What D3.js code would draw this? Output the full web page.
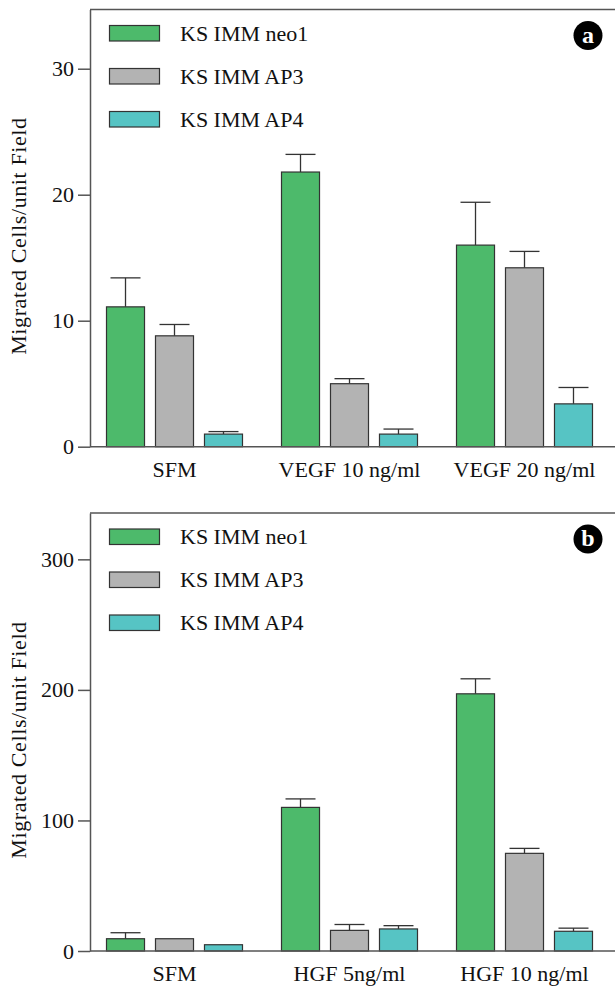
<!DOCTYPE html>
<html lang="en">
<head>
    <meta charset="UTF-8">
    <title>Migrated cells</title>
    <script src="https://d3js.org/d3.v7.min.js"></script>
    <style>
        body{
            margin: 0;
            background: white;
        }
        svg text{
            font-family: "Liberation Serif", "Times New Roman", Times, "DejaVu Serif", serif;
            fill: #111;
        }
        .axis path, .axis line{
            stroke: #555;
            stroke-width: 1.5px;
        }
    </style>
</head>
<body>
<svg id="canvas" width="615" height="987"></svg>
<script>
    // series and colours
    let series = ["KS IMM neo1", "KS IMM AP3", "KS IMM AP4"];
    let colors = ["#4dba6b", "#b3b3b3", "#56c4c4"];

    // panel a : VEGF
    let catsA = ["SFM", "VEGF 10 ng/ml", "VEGF 20 ng/ml"];
    let neo1A = [11.1, 21.8, 16.0];
    let neo1ErrA = [2.3, 1.4, 3.4];
    let ap3A = [8.8, 5.0, 14.2];
    let ap3ErrA = [0.9, 0.4, 1.3];
    let ap4A = [1.0, 1.0, 3.4];
    let ap4ErrA = [0.2, 0.4, 1.3];
    let ticksA = [0, 10, 20, 30];

    // panel b : HGF
    let catsB = ["SFM", "HGF 5ng/ml", "HGF 10 ng/ml"];
    let neo1B = [9.4, 110, 197];
    let neo1ErrB = [4.6, 6.5, 11.5];
    let ap3B = [9.4, 15.8, 74.8];
    let ap3ErrB = [0, 4.5, 3.8];
    let ap4B = [4.8, 16.9, 15.1];
    let ap4ErrB = [0, 2.5, 2.4];
    let ticksB = [0, 100, 200, 300];

    let svg = d3.select('svg');
    let serif = 'Liberation Serif';
    let fs = 22;

    function panel(opts){
        let g = svg.append('g');
        let y = d3.scaleLinear().domain([0, opts.ymax]).range([opts.bottom, opts.top]);
        let x = d3.scaleBand().domain(opts.cats).range([87, 612]);
        let xs = d3.scaleBand().domain(series).range([0, x.bandwidth()])
                    .paddingInner(0.224).paddingOuter(0.398);

        // frame: top line
        g.append('line').attr('x1', 90).attr('x2', 615)
            .attr('y1', opts.top).attr('y2', opts.top)
            .attr('stroke', '#555').attr('stroke-width', 1.5);

        let rows = [];
        opts.cats.forEach(function(c, i){
            series.forEach(function(s, j){
                rows.push({cat: c, s: s, j: j, v: opts.vals[j][i], e: opts.errs[j][i]});
            });
        });

        // error bars first so bar outline sits on top
        let cap = 30;
        let eb = g.append('g').attr('stroke', '#333').attr('stroke-width', 1.3);
        rows.filter(function(d){return d.e > 0;}).forEach(function(d){
            let cx = x(d.cat) + xs(d.s) + xs.bandwidth() / 2;
            eb.append('line').attr('x1', cx).attr('x2', cx)
                .attr('y1', y(d.v)).attr('y2', y(d.v + d.e));
            eb.append('line').attr('x1', cx - cap / 2).attr('x2', cx + cap / 2)
                .attr('y1', y(d.v + d.e)).attr('y2', y(d.v + d.e));
        });

        g.selectAll('rect.bar')
            .data(rows)
            .enter()
            .append('rect')
            .attr('class', 'bar')
            .attr('x', function(d){return x(d.cat) + xs(d.s);})
            .attr('width', xs.bandwidth())
            .attr('y', function(d){return y(d.v);})
            .attr('height', function(d){return y(0) - y(d.v);})
            .attr('fill', function(d){return colors[d.j];})
            .attr('stroke', '#333')
            .attr('stroke-width', 1.2);

        g.append('line').attr('x1', 90).attr('x2', 615)
            .attr('y1', y(0)).attr('y2', y(0))
            .attr('stroke', '#555').attr('stroke-width', 1.5);

        let yAxis = d3.axisLeft(y).tickValues(opts.ticks).tickSize(12).tickSizeOuter(0).tickPadding(4);
        let ax = g.append('g').attr('class', 'axis').attr('transform', 'translate(90,0)').call(yAxis);
        ax.attr('font-family', serif).attr('font-size', fs);
        ax.selectAll('text').attr('fill', '#111');

        // category labels
        g.selectAll('text.cat')
            .data(opts.cats)
            .enter()
            .append('text')
            .attr('class', 'cat')
            .attr('x', function(d){return x(d) + x.bandwidth() / 2;})
            .attr('y', y(0) + 30)
            .attr('text-anchor', 'middle')
            .attr('font-family', serif)
            .attr('font-size', fs)
            .text(function(d){return d;});

        // y title
        g.append('text')
            .attr('transform', 'translate(26,' + ((opts.top + opts.bottom) / 2 + 8) + ') rotate(-90)')
            .attr('text-anchor', 'middle')
            .attr('font-family', serif)
            .attr('font-size', fs)
            .attr('letter-spacing', 0.6)
            .text('Migrated Cells/unit Field');

        // legend
        let lg = g.append('g');
        series.forEach(function(s, j){
            let ly = opts.top + 16 + j * 43;
            lg.append('rect').attr('x', 109.5).attr('y', ly).attr('width', 50).attr('height', 15.5)
                .attr('fill', colors[j]).attr('stroke', '#333').attr('stroke-width', 1.2);
            lg.append('text').attr('x', 180).attr('y', ly + 15)
                .attr('font-family', serif).attr('font-size', fs).text(s);
        });

        // panel badge
        g.append('circle').attr('cx', 588).attr('cy', opts.top + 26).attr('r', 14.5).attr('fill', '#000');
        g.append('text').attr('x', 588).attr('y', opts.top + 33)
            .attr('text-anchor', 'middle')
            .attr('font-family', serif)
            .attr('font-size', 24).attr('font-weight', 'bold')
            .style('fill', '#fff')
            .text(opts.badge);
    }

    panel({top: 9.5, bottom: 446.7, ymax: 34.7, cats: catsA, ticks: ticksA, badge: 'a',
        vals: [neo1A, ap3A, ap4A], errs: [neo1ErrA, ap3ErrA, ap4ErrA]});
    panel({top: 513, bottom: 951, ymax: 335.5, cats: catsB, ticks: ticksB, badge: 'b',
        vals: [neo1B, ap3B, ap4B], errs: [neo1ErrB, ap3ErrB, ap4ErrB]});
</script>
</body>
</html>
